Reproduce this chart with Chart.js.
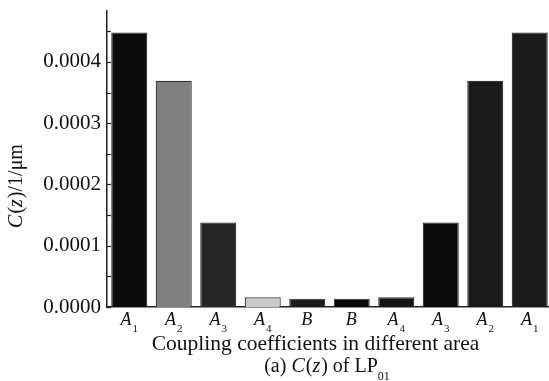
<!DOCTYPE html>
<html>
<head>
<meta charset="utf-8">
<script src="https://cdn.jsdelivr.net/npm/chart.js@4.4.0/dist/chart.umd.min.js"></script>
<style>
  html, body { margin: 0; padding: 0; background: #fff; overflow: hidden; }
  canvas { display: block; }
</style>
</head>
<body>
<canvas id="grafica" width="553" height="381"></canvas>
<script>
// categories: letter + subscript digit
const categories = ['A1', 'A2', 'A3', 'A4', 'B', 'B', 'A4', 'A3', 'A2', 'A1'];
const coupling = [0.000448, 0.000369, 0.000138, 0.0000158, 0.0000136, 0.0000136, 0.0000158, 0.000138, 0.000369, 0.000448];
const barColors = ['#0c0c0c', '#7f7f7f', '#262626', '#c9c9c9', '#1c1c1c', '#0a0a0a', '#151515', '#0b0b0b', '#1a1a1a', '#1c1c1c'];
const yLabels = ['0.0000', '0.0001', '0.0002', '0.0003', '0.0004'];
const xTitle = 'Coupling coefficients in different area';

const FONT = '"Liberation Serif", "Times New Roman", serif';

// draw a run of text pieces: [text, italic, subscript]
function drawRich(ctx, segs, x, y, size, align) {
    let total = 0;
    const widths = segs.map(function (s) {
        ctx.font = (s[1] ? 'italic ' : '') + (s[2] ? Math.round(size * 0.6) : size) + 'px ' + FONT;
        const w = ctx.measureText(s[0]).width + (s[1] && !s[2] ? 1 : 0);
        total += w;
        return w;
    });
    let cx = align === 'center' ? x - total / 2 : x;
    segs.forEach(function (s, i) {
        ctx.font = (s[1] ? 'italic ' : '') + (s[2] ? Math.round(size * 0.6) : size) + 'px ' + FONT;
        ctx.fillText(s[0], cx, s[2] ? y + size * 0.4 : y);
        cx += widths[i];
    });
}

const labelPlugin = {
    id: 'labelPlugin',
    afterDraw: function (chart) {
        const ctx = chart.ctx;
        const xs = chart.scales.x;
        const ys = chart.scales.y;
        ctx.save();
        ctx.fillStyle = '#111';
        ctx.textAlign = 'left';
        ctx.textBaseline = 'alphabetic';

        // inward tick marks on the y axis
        ctx.strokeStyle = '#222';
        ctx.lineWidth = 1.2;
        ys.ticks.forEach(function (t) {
            const py = Math.round(ys.getPixelForValue(t.value)) + 0.5;
            ctx.beginPath();
            ctx.moveTo(ys.right, py);
            ctx.lineTo(ys.right + 4, py);
            ctx.stroke();
        });

        // category labels like A with subscript
        categories.forEach(function (c, i) {
            const m = c.match(/^([A-Z])(\d*)$/);
            const segs = [[m[1], true, false]];
            if (m[2]) segs.push([m[2], false, true]);
            drawRich(ctx, segs, xs.getPixelForTick(i), 325, 18, 'center');
        });

        // x titles
        drawRich(ctx, [[xTitle, false, false]], 315.5, 350, 21.5, 'center');
        drawRich(ctx, [['(a) ', false, false], ['C', true, false], ['(', false, false], ['z', true, false],
            [') of LP', false, false], ['01', false, true]], 327, 372, 20, 'center');

        // y title, rotated
        ctx.translate(22, 186);
        ctx.rotate(-Math.PI / 2);
        drawRich(ctx, [['C', true, false], ['(', false, false], ['z', true, false], [')/1/\u03bcm', false, false]],
            0, 0, 20, 'center');
        ctx.restore();
    }
};

document.addEventListener('DOMContentLoaded', function () {
    const ctx = document.getElementById('grafica').getContext('2d');
    new Chart(ctx, {
        type: 'bar',
        data: {
            labels: categories,
            datasets: [{
                data: coupling,
                backgroundColor: barColors,
                borderColor: '#333',
                borderWidth: 1.2,
                borderSkipped: 'bottom',
                barPercentage: 0.81,
                categoryPercentage: 1
            }]
        },
        options: {
            responsive: false,
            animation: false,
            layout: { padding: { top: 11, right: 1, left: 0, bottom: 0 } },
            plugins: { legend: { display: false }, tooltip: { enabled: false } },
            scales: {
                x: {
                    grid: { display: false },
                    border: { display: true, color: '#222', width: 1.5 },
                    ticks: { display: false },
                    afterFit: function (scale) { scale.height = 74; }
                },
                y: {
                    min: 0,
                    max: 0.000483,
                    grid: { display: false, drawTicks: false },
                    border: { display: true, color: '#222', width: 1.5 },
                    ticks: {
                        stepSize: 0.00005,
                        includeBounds: false,
                        padding: 6,
                        color: '#111',
                        font: { family: FONT, size: 21 },
                        callback: function (v) {
                            const k = Math.round(v / 0.0001);
                            if (Math.abs(v - k * 0.0001) > 1e-9) return '';
                            return yLabels[k] || '';
                        }
                    },
                    afterFit: function (scale) {
                        scale.width = 107;
                        scale.paddingTop = 0;
                        scale.paddingBottom = 0;
                    }
                }
            }
        },
        plugins: [labelPlugin]
    });
});
</script>
</body>
</html>
